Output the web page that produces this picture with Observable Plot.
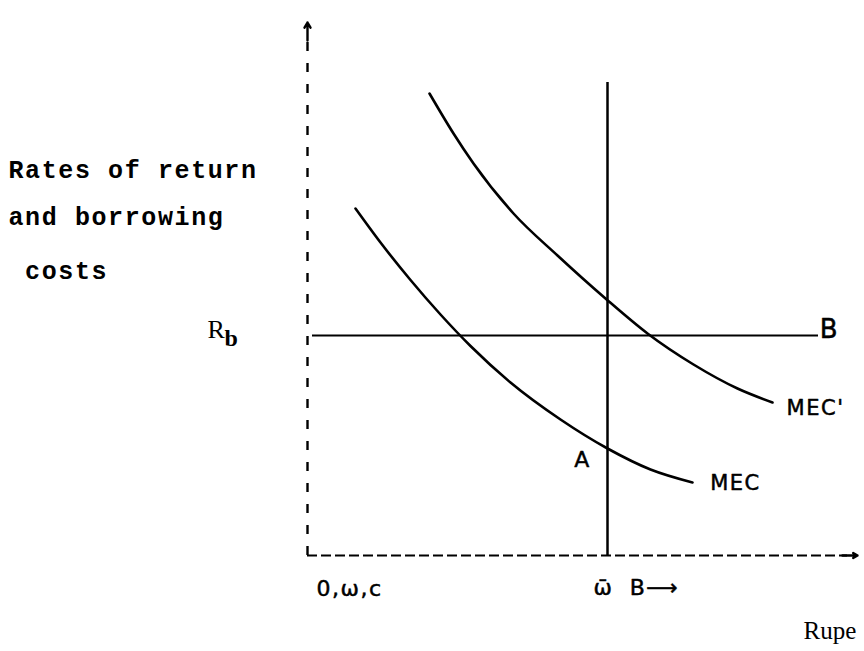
<!DOCTYPE html>
<html><head><meta charset="utf-8">
<script src="https://cdn.jsdelivr.net/npm/d3@7"></script>
<script src="https://cdn.jsdelivr.net/npm/@observablehq/plot@0.6"></script>
<style>html,body{margin:0;padding:0;background:#fff} svg{display:block}</style>
</head><body><div id="chart"></div>
<script>
// MEC schedule (investment volume, rate of return)
const mecX = [9.6, 14.6, 20.6, 26.6, 32.6, 40.6, 50.6, 60, 68.6, 77];
const mecY = [69.4, 62.6, 55.1, 48.2, 41.9, 34.6, 27.2, 21.4, 17.2, 14.6];
// shifted MEC' schedule
const mec2X = [24.4, 29.2, 33.2, 41.2, 50, 59.6, 68, 77.2, 86, 93];
const mec2Y = [92.4, 84.4, 78.4, 68.4, 60, 51.4, 44.4, 38.2, 33.4, 30.6];
// borrowing cost line B (Rb) and the internal-funds limit w-bar
const rb = 44, rbStart = 1, rbEnd = 102.2;
const wbar = 60, wbarTop = 94.6;
// axes extents
const yAxisTop = 104, yArrowTip = 106.6, xAxisEnd = 108, xArrowTip = 110;

const yTitle = ["Rates of return", "and borrowing", " costs"];
const yTitleX = [-59.8, -59.8, -59.8];
const yTitleY = [77.2, 67.8, 57];

const handLabels = ["B", "MEC'", "MEC", "A", "ω̄", "B⟶"];
const handX = [104.4, 101.6, 85.6, 55, 59.2, 69.4];
const handY = [45.2, 29.4, 14.4, 19.2, -6.4, -6.4];
const handSize = [26, 21, 21, 22, 22, 22];

const originLabel = "0,ω,c";
const originX = 1.8, originY = -6.6;

const mec = mecX.map((x, i) => ({x, y: mecY[i]}));
const mec2 = mec2X.map((x, i) => ({x, y: mec2Y[i]}));
const titles = yTitle.map((t, i) => ({t, x: yTitleX[i], y: yTitleY[i]}));
const hands = handLabels.map((t, i) => ({t, x: handX[i], y: handY[i], s: handSize[i]}));

const plot = Plot.plot({
  width: 864, height: 651,
  marginLeft: 307, marginRight: 7, marginTop: 20, marginBottom: 96,
  x: {domain: [0, 110], axis: null},
  y: {domain: [0, 107], axis: null},
  style: {background: "#fff", color: "#000"},
  marks: [
    Plot.ruleX([0], {y1: 0, y2: yAxisTop, stroke: "#000", strokeWidth: 2.4, strokeDasharray: "9,12"}),
    Plot.arrow([{}], {x1: 0, y1: yAxisTop - 1, x2: 0, y2: yArrowTip, stroke: "#000", strokeWidth: 2.4, headLength: 11}),
    Plot.ruleY([0], {x1: 0, x2: xAxisEnd, stroke: "#000", strokeWidth: 2.2, strokeDasharray: "10,4"}),
    Plot.arrow([{}], {x1: xAxisEnd - 1, y1: 0, x2: xArrowTip, y2: 0, stroke: "#000", strokeWidth: 2.4, headLength: 11}),
    Plot.ruleY([rb], {x1: rbStart, x2: rbEnd, stroke: "#000", strokeWidth: 2.2}),
    Plot.ruleX([wbar], {y1: 0, y2: wbarTop, stroke: "#000", strokeWidth: 2.5}),
    Plot.line(mec, {x: "x", y: "y", curve: "monotone-x", stroke: "#000", strokeWidth: 2.6}),
    Plot.line(mec2, {x: "x", y: "y", curve: "monotone-x", stroke: "#000", strokeWidth: 2.6}),
    Plot.text(titles, {x: "x", y: "y", text: "t", textAnchor: "start", fontFamily: "Liberation Mono", fontWeight: "bold", fontSize: 25, fill: "#000"}),
    Plot.text(["R"], {x: -20, y: 45.1, text: d => d, textAnchor: "start", fontFamily: "Liberation Serif", fontSize: 26, fill: "#000"}),
    Plot.text(["b"], {x: -16.6, y: 43.4, text: d => d, textAnchor: "start", fontFamily: "Liberation Serif", fontWeight: "bold", fontSize: 24, fill: "#000"}),
    Plot.text(hands, {x: "x", y: "y", text: "t", fontSize: "s", textAnchor: "middle", fontFamily: "DejaVu Sans", fill: "#000", stroke: "#000", strokeWidth: 0.5}),
    Plot.text([originLabel], {x: originX, y: originY, text: d => d, textAnchor: "start", fontFamily: "DejaVu Sans", fontSize: 22, fill: "#000", stroke: "#000", strokeWidth: 0.5}),
    Plot.text(["Rupe"], {x: 99.2, y: -15, text: d => d, textAnchor: "start", fontFamily: "Liberation Serif", fontSize: 25, fill: "#000"})
  ]
});
plot.querySelectorAll('g[font-family="Liberation Mono"]').forEach(g => {
  g.style.letterSpacing = "1.6px";
  g.setAttribute("xml:space", "preserve");
});
plot.querySelectorAll('g[font-family="DejaVu Sans"]').forEach(g => {
  g.style.letterSpacing = "1.5px";
});
document.getElementById("chart").appendChild(plot);
</script>
</body></html>
